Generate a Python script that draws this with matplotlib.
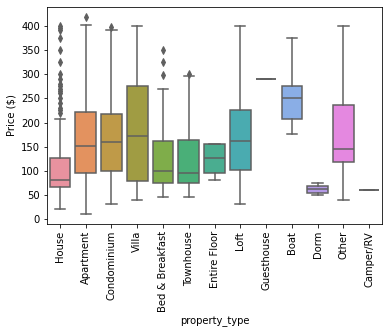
import matplotlib
matplotlib.use("Agg")
import matplotlib.pyplot as plt

categories = ["House", "Apartment", "Condominium", "Villa", "Bed & Breakfast", "Townhouse",
              "Entire Floor", "Loft", "Guesthouse", "Boat", "Dorm", "Other", "Camper/RV"]
whislo = [22, 11, 32, 40, 46, 46, 81, 32, 289, 176, 51, 40, 60]
q1 =     [67, 96, 101, 80, 76, 76, 96, 102, 289, 207, 55, 118, 60]
med =    [81, 151, 160, 172, 101, 96, 127, 162, 289, 250, 63, 145, 60]
q3 =     [126, 221, 217, 276, 161, 163, 155, 226, 289, 276, 69, 237, 60]
whishi = [207, 401, 391, 400, 270, 295, 155, 400, 289, 375, 75, 400, 60]
fliers = [
    [220, 225, 230, 240, 250, 260, 265, 270, 275, 280, 290, 300, 325, 350, 375, 390, 395, 400],
    [418], [398], [], [298, 325, 350], [300], [], [], [], [], [], [], [],
]

colors = ["#e8929f", "#e3925f", "#bf9a48", "#a09c43", "#7fad4a", "#4aaf78", "#4aad90",
          "#4aabb0", "#56a6d2", "#8aaee6", "#b49ae6", "#e488e0", "#e68ab4"]
line_c = "#5f5f5f"

fig = plt.figure(figsize=(389/72, 334/72), dpi=72)
ax = fig.add_axes([47/389, 1-224/334, (382-47)/389, (224-7)/334])

stats = []
for i, c in enumerate(categories):
    stats.append(dict(label=c, whislo=whislo[i], q1=q1[i], med=med[i], q3=q3[i],
                      whishi=whishi[i], fliers=fliers[i]))

bp = ax.bxp(stats, positions=range(len(categories)), widths=0.8, patch_artist=True,
            boxprops=dict(edgecolor=line_c, linewidth=1.5),
            medianprops=dict(color=line_c, linewidth=1.5),
            whiskerprops=dict(color=line_c, linewidth=1.5),
            capprops=dict(color=line_c, linewidth=1.5),
            flierprops=dict(marker="d", markerfacecolor=line_c, markeredgecolor=line_c, markersize=5))
for patch, col in zip(bp["boxes"], colors):
    patch.set_facecolor(col)

ax.set_xlim(-0.5, len(categories) - 0.5)
ax.set_yticks(range(0, 401, 50))
ax.set_xticks(range(len(categories)))
ax.set_xticklabels(categories, rotation=90)
ax.set_xlabel("property_type")
ax.set_ylabel("Price ($)")
fig.savefig("out.png", dpi=72)
